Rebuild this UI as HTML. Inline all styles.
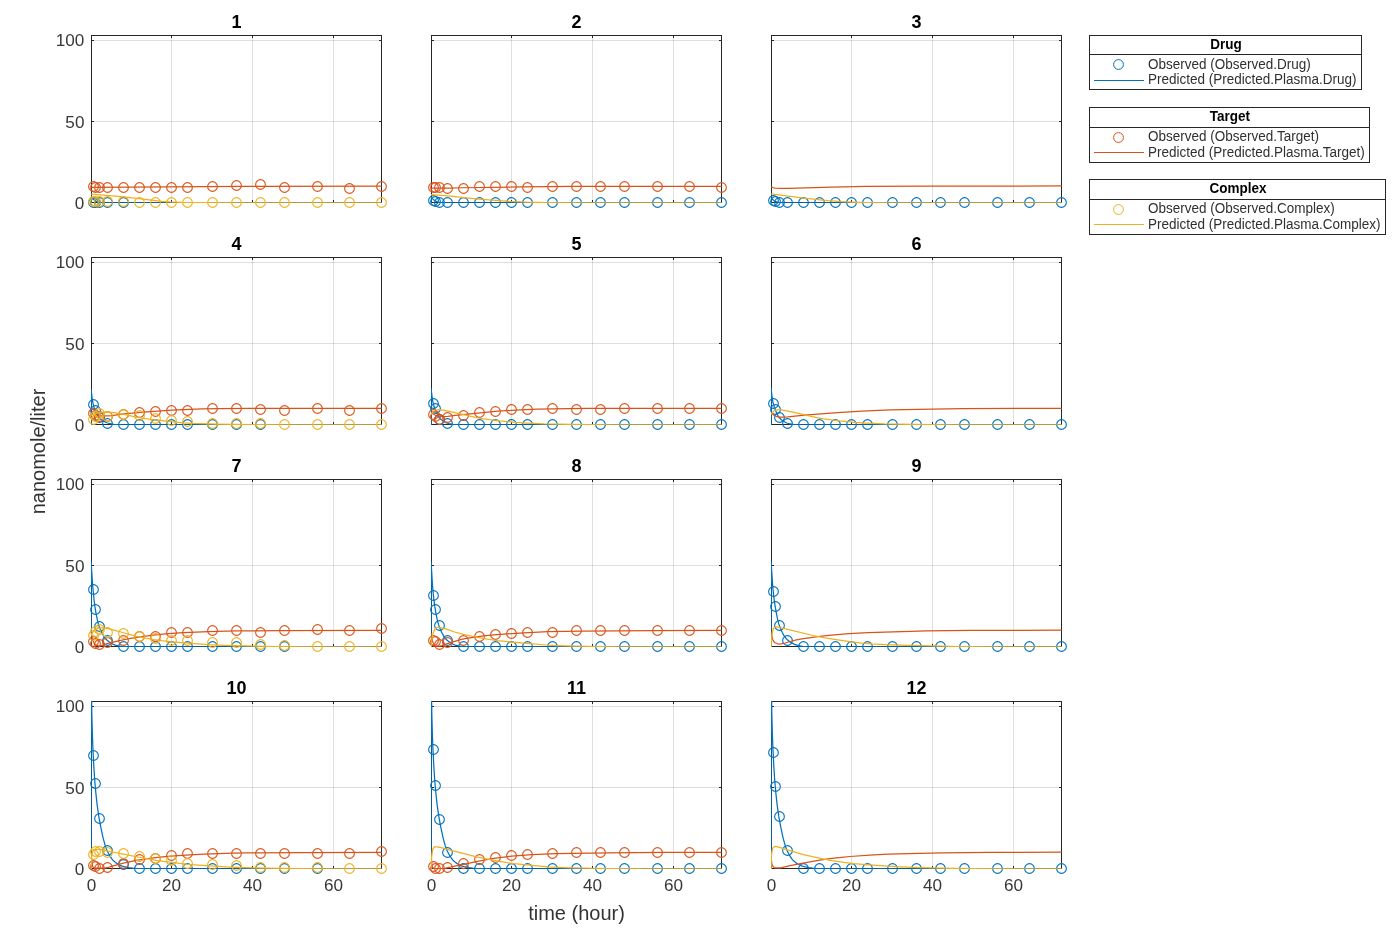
<!DOCTYPE html>
<html><head><meta charset="utf-8"><title>Fit results</title>
<style>
html,body{margin:0;padding:0;background:#fff;}
svg{display:block;will-change:transform;}
text{font-family:"Liberation Sans",Arial,Helvetica,sans-serif;}
.tk{font-size:16px;fill:#383838;}
.ti{font-size:18px;font-weight:bold;fill:#000;}
.lb{font-size:20px;fill:#333;}
.lg{font-size:14px;fill:#303030;}
.lt{font-size:14px;font-weight:bold;fill:#000;}
</style></head><body>
<svg width="1393" height="929" viewBox="0 0 1393 929">
<rect width="1393" height="929" fill="#fff"/>
<defs>
<clipPath id="c1"><rect x="91" y="35" width="291" height="168"/></clipPath>
<clipPath id="c2"><rect x="431" y="35" width="291" height="168"/></clipPath>
<clipPath id="c3"><rect x="771" y="35" width="291" height="168"/></clipPath>
<clipPath id="c4"><rect x="91" y="257" width="291" height="168"/></clipPath>
<clipPath id="c5"><rect x="431" y="257" width="291" height="168"/></clipPath>
<clipPath id="c6"><rect x="771" y="257" width="291" height="168"/></clipPath>
<clipPath id="c7"><rect x="91" y="479" width="291" height="168"/></clipPath>
<clipPath id="c8"><rect x="431" y="479" width="291" height="168"/></clipPath>
<clipPath id="c9"><rect x="771" y="479" width="291" height="168"/></clipPath>
<clipPath id="c10"><rect x="91" y="701" width="291" height="168"/></clipPath>
<clipPath id="c11"><rect x="431" y="701" width="291" height="168"/></clipPath>
<clipPath id="c12"><rect x="771" y="701" width="291" height="168"/></clipPath>
</defs>
<g id="ax1">
<path d="M171.5,36V202M252.5,36V202M333.5,36V202" stroke="#262626" stroke-opacity="0.15" stroke-width="1" fill="none" shape-rendering="crispEdges"/>
<path d="M92,121.5H381M92,40.5H381" stroke="#262626" stroke-opacity="0.15" stroke-width="1" fill="none" shape-rendering="crispEdges"/>
<path d="M91.5,35.5H381.5V202.5H91.5ZM91.5,203v-3M91.5,35v3M171.5,203v-3M171.5,35v3M252.5,203v-3M252.5,35v3M333.5,203v-3M333.5,35v3M91,202.5h3M382,202.5h-3M91,121.5h3M382,121.5h-3M91,40.5h3M382,40.5h-3" stroke="#262626" stroke-width="1" fill="none" shape-rendering="crispEdges"/>
<text class="tk" x="84.4" y="208.6" text-anchor="end" textLength="9.52" lengthAdjust="spacingAndGlyphs">0</text>
<text class="tk" x="84.4" y="127.9" text-anchor="end" textLength="19.04" lengthAdjust="spacingAndGlyphs">50</text>
<text class="tk" x="84.4" y="46.0" text-anchor="end" textLength="28.56" lengthAdjust="spacingAndGlyphs">100</text>
<text class="ti" x="236.5" y="27.8" text-anchor="middle">1</text>
<g fill="none" stroke="#0072BD" stroke-width="1.1"><circle cx="93.5" cy="202.5" r="4.85"/><circle cx="95.5" cy="202.5" r="4.85"/><circle cx="99.5" cy="202.5" r="4.85"/><circle cx="107.5" cy="202.5" r="4.85"/><circle cx="123.5" cy="202.5" r="4.85"/></g>
<path clip-path="url(#c1)" fill="none" stroke-width="1.25"  d="M91.1,202.9 L91.1,196.18 L92.61,198.23 L94.63,200.3 L95.44,200.86 L96.85,201.58 L98.06,202.01 L99.17,202.24 L102.8,202.6 L106.43,202.77 L122.97,202.9 L381.6,202.9" stroke="#0072BD" stroke-linejoin="round"/>
<g fill="none" stroke="#D95319" stroke-width="1.1"><circle cx="93.5" cy="186.5" r="4.85"/><circle cx="95.5" cy="187.5" r="4.85"/><circle cx="99.5" cy="187.5" r="4.85"/><circle cx="107.5" cy="187.5" r="4.85"/><circle cx="123.5" cy="187.5" r="4.85"/><circle cx="139.5" cy="187.5" r="4.85"/><circle cx="155.5" cy="187.5" r="4.85"/><circle cx="171.5" cy="187.5" r="4.85"/><circle cx="187.5" cy="187.5" r="4.85"/><circle cx="212.5" cy="186.5" r="4.85"/><circle cx="236.5" cy="185.5" r="4.85"/><circle cx="260.5" cy="184.5" r="4.85"/><circle cx="284.5" cy="187.5" r="4.85"/><circle cx="317.5" cy="186.5" r="4.85"/><circle cx="349.5" cy="188.5" r="4.85"/><circle cx="381.5" cy="186.5" r="4.85"/></g>
<path clip-path="url(#c1)" fill="none" stroke-width="1.25"  d="M91.1,187.43 L244.42,186.49 L381.6,186.13" stroke="#D95319" stroke-linejoin="round"/>
<g fill="none" stroke="#EDB120" stroke-width="1.1"><circle cx="93.5" cy="201.5" r="4.85"/><circle cx="95.5" cy="201.5" r="4.85"/><circle cx="99.5" cy="201.5" r="4.85"/><circle cx="107.5" cy="201.5" r="4.85"/><circle cx="123.5" cy="201.5" r="4.85"/><circle cx="139.5" cy="202.5" r="4.85"/><circle cx="155.5" cy="202.5" r="4.85"/><circle cx="171.5" cy="202.5" r="4.85"/><circle cx="187.5" cy="202.5" r="4.85"/><circle cx="212.5" cy="202.5" r="4.85"/><circle cx="236.5" cy="202.5" r="4.85"/><circle cx="260.5" cy="202.5" r="4.85"/><circle cx="284.5" cy="202.5" r="4.85"/><circle cx="317.5" cy="202.5" r="4.85"/><circle cx="349.5" cy="202.5" r="4.85"/><circle cx="381.5" cy="202.5" r="4.85"/></g>
<path clip-path="url(#c1)" fill="none" stroke-width="1.25"  d="M91.1,194.23 L123.78,196.86 L153.64,200.46 L161.71,201.28 L169.78,201.91 L181.88,202.43 L202.05,202.73 L238.37,202.88 L381.6,202.9" stroke="#EDB120" stroke-linejoin="round"/>
</g>
<g id="ax2">
<path d="M511.5,36V202M592.5,36V202M673.5,36V202" stroke="#262626" stroke-opacity="0.15" stroke-width="1" fill="none" shape-rendering="crispEdges"/>
<path d="M432,121.5H721M432,40.5H721" stroke="#262626" stroke-opacity="0.15" stroke-width="1" fill="none" shape-rendering="crispEdges"/>
<path d="M431.5,35.5H721.5V202.5H431.5ZM431.5,203v-3M431.5,35v3M511.5,203v-3M511.5,35v3M592.5,203v-3M592.5,35v3M673.5,203v-3M673.5,35v3M431,202.5h3M722,202.5h-3M431,121.5h3M722,121.5h-3M431,40.5h3M722,40.5h-3" stroke="#262626" stroke-width="1" fill="none" shape-rendering="crispEdges"/>
<text class="ti" x="576.5" y="27.8" text-anchor="middle">2</text>
<g fill="none" stroke="#0072BD" stroke-width="1.1"><circle cx="433.5" cy="200.5" r="4.85"/><circle cx="435.5" cy="201.5" r="4.85"/><circle cx="439.5" cy="202.5" r="4.85"/><circle cx="447.5" cy="202.5" r="4.85"/><circle cx="463.5" cy="202.5" r="4.85"/><circle cx="479.5" cy="202.5" r="4.85"/><circle cx="495.5" cy="202.5" r="4.85"/><circle cx="511.5" cy="202.5" r="4.85"/><circle cx="527.5" cy="202.5" r="4.85"/><circle cx="552.5" cy="202.5" r="4.85"/><circle cx="576.5" cy="202.5" r="4.85"/><circle cx="600.5" cy="202.5" r="4.85"/><circle cx="624.5" cy="202.5" r="4.85"/><circle cx="657.5" cy="202.5" r="4.85"/><circle cx="689.5" cy="202.5" r="4.85"/><circle cx="721.5" cy="202.5" r="4.85"/></g>
<path clip-path="url(#c2)" fill="none" stroke-width="1.25"  d="M431.1,202.9 L431.1,197.15 L432.41,198.62 L434.53,200.51 L435.34,201.01 L436.95,201.69 L438.36,202.1 L439.98,202.33 L446.84,202.78 L462.97,202.9 L721.6,202.9" stroke="#0072BD" stroke-linejoin="round"/>
<g fill="none" stroke="#D95319" stroke-width="1.1"><circle cx="433.5" cy="187.5" r="4.85"/><circle cx="435.5" cy="187.5" r="4.85"/><circle cx="439.5" cy="187.5" r="4.85"/><circle cx="447.5" cy="188.5" r="4.85"/><circle cx="463.5" cy="188.5" r="4.85"/><circle cx="479.5" cy="186.5" r="4.85"/><circle cx="495.5" cy="186.5" r="4.85"/><circle cx="511.5" cy="186.5" r="4.85"/><circle cx="527.5" cy="187.5" r="4.85"/><circle cx="552.5" cy="186.5" r="4.85"/><circle cx="576.5" cy="186.5" r="4.85"/><circle cx="600.5" cy="186.5" r="4.85"/><circle cx="624.5" cy="186.5" r="4.85"/><circle cx="657.5" cy="186.5" r="4.85"/><circle cx="689.5" cy="186.5" r="4.85"/><circle cx="721.5" cy="187.5" r="4.85"/></g>
<path clip-path="url(#c2)" fill="none" stroke-width="1.25"  d="M431.1,188.08 L449.66,188.06 L463.38,187.75 L521.88,186.86 L572.32,186.36 L721.6,186.3" stroke="#D95319" stroke-linejoin="round"/>
<path clip-path="url(#c2)" fill="none" stroke-width="1.25"  d="M431.1,194.56 L448.05,195.93 L475.89,198.77 L495.66,200.46 L509.78,201.46 L525.92,202.18 L548.11,202.64 L582.4,202.88 L721.6,202.9" stroke="#EDB120" stroke-linejoin="round"/>
</g>
<g id="ax3">
<path d="M851.5,36V202M932.5,36V202M1013.5,36V202" stroke="#262626" stroke-opacity="0.15" stroke-width="1" fill="none" shape-rendering="crispEdges"/>
<path d="M772,121.5H1061M772,40.5H1061" stroke="#262626" stroke-opacity="0.15" stroke-width="1" fill="none" shape-rendering="crispEdges"/>
<path d="M771.5,35.5H1061.5V202.5H771.5ZM771.5,203v-3M771.5,35v3M851.5,203v-3M851.5,35v3M932.5,203v-3M932.5,35v3M1013.5,203v-3M1013.5,35v3M771,202.5h3M1062,202.5h-3M771,121.5h3M1062,121.5h-3M771,40.5h3M1062,40.5h-3" stroke="#262626" stroke-width="1" fill="none" shape-rendering="crispEdges"/>
<text class="ti" x="916.5" y="27.8" text-anchor="middle">3</text>
<g fill="none" stroke="#0072BD" stroke-width="1.1"><circle cx="773.5" cy="200.5" r="4.85"/><circle cx="775.5" cy="201.5" r="4.85"/><circle cx="779.5" cy="202.5" r="4.85"/><circle cx="787.5" cy="202.5" r="4.85"/><circle cx="803.5" cy="202.5" r="4.85"/><circle cx="819.5" cy="202.5" r="4.85"/><circle cx="835.5" cy="202.5" r="4.85"/><circle cx="851.5" cy="202.5" r="4.85"/><circle cx="867.5" cy="202.5" r="4.85"/><circle cx="892.5" cy="202.5" r="4.85"/><circle cx="916.5" cy="202.5" r="4.85"/><circle cx="940.5" cy="202.5" r="4.85"/><circle cx="964.5" cy="202.5" r="4.85"/><circle cx="997.5" cy="202.5" r="4.85"/><circle cx="1029.5" cy="202.5" r="4.85"/><circle cx="1061.5" cy="202.5" r="4.85"/></g>
<path clip-path="url(#c3)" fill="none" stroke-width="1.25"  d="M771.1,202.9 L771.1,197.96 L774.43,200.94 L775.13,201.35 L776.55,201.89 L779.07,202.45 L786.03,202.89 L1061.6,202.9" stroke="#0072BD" stroke-linejoin="round"/>
<path clip-path="url(#c3)" fill="none" stroke-width="1.25"  d="M771.1,186.94 L773.52,187.78 L774.93,188.06 L781.19,188.32 L787.64,188.4 L831.62,187.03 L865.92,186.47 L928.45,186.14 L1061.6,185.97" stroke="#D95319" stroke-linejoin="round"/>
<path clip-path="url(#c3)" fill="none" stroke-width="1.25"  d="M771.1,193.91 L801.76,197.93 L827.59,200.66 L841.71,201.74 L857.85,202.44 L867.93,202.68 L890.12,202.9 L1061.6,202.9" stroke="#EDB120" stroke-linejoin="round"/>
</g>
<g id="ax4">
<path d="M171.5,258V424M252.5,258V424M333.5,258V424" stroke="#262626" stroke-opacity="0.15" stroke-width="1" fill="none" shape-rendering="crispEdges"/>
<path d="M92,343.5H381M92,262.5H381" stroke="#262626" stroke-opacity="0.15" stroke-width="1" fill="none" shape-rendering="crispEdges"/>
<path d="M91.5,257.5H381.5V424.5H91.5ZM91.5,425v-3M91.5,257v3M171.5,425v-3M171.5,257v3M252.5,425v-3M252.5,257v3M333.5,425v-3M333.5,257v3M91,424.5h3M382,424.5h-3M91,343.5h3M382,343.5h-3M91,262.5h3M382,262.5h-3" stroke="#262626" stroke-width="1" fill="none" shape-rendering="crispEdges"/>
<text class="tk" x="84.4" y="430.6" text-anchor="end" textLength="9.52" lengthAdjust="spacingAndGlyphs">0</text>
<text class="tk" x="84.4" y="349.9" text-anchor="end" textLength="19.04" lengthAdjust="spacingAndGlyphs">50</text>
<text class="tk" x="84.4" y="268.0" text-anchor="end" textLength="28.56" lengthAdjust="spacingAndGlyphs">100</text>
<text class="ti" x="236.5" y="249.8" text-anchor="middle">4</text>
<g fill="none" stroke="#0072BD" stroke-width="1.1"><circle cx="93.5" cy="404.5" r="4.85"/><circle cx="95.5" cy="410.5" r="4.85"/><circle cx="99.5" cy="417.5" r="4.85"/><circle cx="107.5" cy="423.5" r="4.85"/><circle cx="123.5" cy="424.5" r="4.85"/><circle cx="139.5" cy="424.5" r="4.85"/><circle cx="155.5" cy="424.5" r="4.85"/><circle cx="171.5" cy="424.5" r="4.85"/><circle cx="187.5" cy="424.5" r="4.85"/><circle cx="212.5" cy="424.5" r="4.85"/><circle cx="236.5" cy="424.5" r="4.85"/><circle cx="260.5" cy="424.5" r="4.85"/></g>
<path clip-path="url(#c4)" fill="none" stroke-width="1.25"  d="M91.1,424.9 L91.1,389.34 L92.21,398.76 L92.92,402.81 L93.72,406.37 L95.03,410.8 L96.35,413.71 L97.56,415.85 L98.87,417.56 L100.78,419.23 L102.8,420.65 L105.62,422.24 L106.84,422.77 L109.26,423.48 L113.69,424.31 L121.76,424.76 L137.1,424.9 L381.6,424.9" stroke="#0072BD" stroke-linejoin="round"/>
<g fill="none" stroke="#D95319" stroke-width="1.1"><circle cx="93.5" cy="413.5" r="4.85"/><circle cx="95.5" cy="415.5" r="4.85"/><circle cx="99.5" cy="416.5" r="4.85"/><circle cx="107.5" cy="416.5" r="4.85"/><circle cx="123.5" cy="414.5" r="4.85"/><circle cx="139.5" cy="412.5" r="4.85"/><circle cx="155.5" cy="411.5" r="4.85"/><circle cx="171.5" cy="410.5" r="4.85"/><circle cx="187.5" cy="410.5" r="4.85"/><circle cx="212.5" cy="408.5" r="4.85"/><circle cx="236.5" cy="408.5" r="4.85"/><circle cx="260.5" cy="409.5" r="4.85"/><circle cx="284.5" cy="410.5" r="4.85"/><circle cx="317.5" cy="408.5" r="4.85"/><circle cx="349.5" cy="410.5" r="4.85"/><circle cx="381.5" cy="408.5" r="4.85"/></g>
<path clip-path="url(#c4)" fill="none" stroke-width="1.25"  d="M91.1,412.67 L92.71,413.87 L94.13,414.7 L95.13,415.1 L97.56,415.74 L99.07,415.91 L107.64,415.91 L112.48,415.55 L121.36,414.22 L127.01,413.57 L143.55,412.03 L171.79,410.08 L202.05,408.99 L220.21,408.68 L248.45,408.47 L381.6,408.29" stroke="#D95319" stroke-linejoin="round"/>
<g fill="none" stroke="#EDB120" stroke-width="1.1"><circle cx="93.5" cy="419.5" r="4.85"/><circle cx="95.5" cy="416.5" r="4.85"/><circle cx="99.5" cy="413.5" r="4.85"/><circle cx="107.5" cy="416.5" r="4.85"/><circle cx="123.5" cy="414.5" r="4.85"/><circle cx="139.5" cy="415.5" r="4.85"/><circle cx="155.5" cy="418.5" r="4.85"/><circle cx="171.5" cy="420.5" r="4.85"/><circle cx="187.5" cy="421.5" r="4.85"/><circle cx="212.5" cy="423.5" r="4.85"/><circle cx="236.5" cy="423.5" r="4.85"/><circle cx="260.5" cy="423.5" r="4.85"/><circle cx="284.5" cy="424.5" r="4.85"/><circle cx="317.5" cy="424.5" r="4.85"/><circle cx="349.5" cy="424.5" r="4.85"/><circle cx="381.5" cy="424.5" r="4.85"/></g>
<path clip-path="url(#c4)" fill="none" stroke-width="1.25"  d="M91.1,419.15 L92.81,416.66 L94.23,415.04 L96.14,413.6 L97.86,412.66 L99.17,412.34 L108.05,412.19 L113.69,412.67 L123.78,414.36 L127.41,415.09 L137.5,417.48 L145.57,418.74 L163.72,420.93 L175.83,422.21 L183.9,422.88 L191.97,423.33 L216.18,424.11 L252.49,424.68 L288.8,424.9 L381.6,424.9" stroke="#EDB120" stroke-linejoin="round"/>
</g>
<g id="ax5">
<path d="M511.5,258V424M592.5,258V424M673.5,258V424" stroke="#262626" stroke-opacity="0.15" stroke-width="1" fill="none" shape-rendering="crispEdges"/>
<path d="M432,343.5H721M432,262.5H721" stroke="#262626" stroke-opacity="0.15" stroke-width="1" fill="none" shape-rendering="crispEdges"/>
<path d="M431.5,257.5H721.5V424.5H431.5ZM431.5,425v-3M431.5,257v3M511.5,425v-3M511.5,257v3M592.5,425v-3M592.5,257v3M673.5,425v-3M673.5,257v3M431,424.5h3M722,424.5h-3M431,343.5h3M722,343.5h-3M431,262.5h3M722,262.5h-3" stroke="#262626" stroke-width="1" fill="none" shape-rendering="crispEdges"/>
<text class="ti" x="576.5" y="249.8" text-anchor="middle">5</text>
<g fill="none" stroke="#0072BD" stroke-width="1.1"><circle cx="433.5" cy="403.5" r="4.85"/><circle cx="435.5" cy="408.5" r="4.85"/><circle cx="439.5" cy="419.5" r="4.85"/><circle cx="447.5" cy="423.5" r="4.85"/><circle cx="463.5" cy="424.5" r="4.85"/><circle cx="479.5" cy="424.5" r="4.85"/><circle cx="495.5" cy="424.5" r="4.85"/><circle cx="511.5" cy="424.5" r="4.85"/><circle cx="527.5" cy="424.5" r="4.85"/><circle cx="552.5" cy="424.5" r="4.85"/><circle cx="576.5" cy="424.5" r="4.85"/><circle cx="600.5" cy="424.5" r="4.85"/><circle cx="624.5" cy="424.5" r="4.85"/><circle cx="657.5" cy="424.5" r="4.85"/><circle cx="689.5" cy="424.5" r="4.85"/><circle cx="721.5" cy="424.5" r="4.85"/></g>
<path clip-path="url(#c5)" fill="none" stroke-width="1.25"  d="M431.1,424.9 L431.1,388.69 L432.21,397.95 L432.81,401.53 L433.42,404.17 L434.33,407.23 L435.54,410.45 L437.05,414.02 L438.26,416.32 L439.17,417.53 L441.19,419.43 L442.8,420.67 L445.62,422.45 L446.84,423 L448.85,423.57 L453.29,424.38 L458.54,424.76 L463.38,424.9 L721.6,424.9" stroke="#0072BD" stroke-linejoin="round"/>
<g fill="none" stroke="#D95319" stroke-width="1.1"><circle cx="433.5" cy="414.5" r="4.85"/><circle cx="435.5" cy="416.5" r="4.85"/><circle cx="439.5" cy="419.5" r="4.85"/><circle cx="447.5" cy="417.5" r="4.85"/><circle cx="463.5" cy="415.5" r="4.85"/><circle cx="479.5" cy="412.5" r="4.85"/><circle cx="495.5" cy="411.5" r="4.85"/><circle cx="511.5" cy="409.5" r="4.85"/><circle cx="527.5" cy="409.5" r="4.85"/><circle cx="552.5" cy="408.5" r="4.85"/><circle cx="576.5" cy="409.5" r="4.85"/><circle cx="600.5" cy="409.5" r="4.85"/><circle cx="624.5" cy="408.5" r="4.85"/><circle cx="657.5" cy="408.5" r="4.85"/><circle cx="689.5" cy="408.5" r="4.85"/><circle cx="721.5" cy="408.5" r="4.85"/></g>
<path clip-path="url(#c5)" fill="none" stroke-width="1.25"  d="M431.1,412.34 L432.71,413.67 L434.03,414.55 L435.03,415.06 L436.85,415.72 L439.17,416.23 L441.99,416.49 L444.41,416.55 L447.64,416.36 L455.31,415.42 L497.67,411.21 L519.86,409.79 L538.02,409.09 L552.14,408.78 L586.44,408.48 L721.6,408.29" stroke="#D95319" stroke-linejoin="round"/>
<path clip-path="url(#c5)" fill="none" stroke-width="1.25"  d="M431.1,414.45 L432.81,412.17 L434.13,410.86 L434.83,410.35 L437.56,409.84 L440.38,409.8 L442.8,410.14 L451.68,411.94 L476.69,417.65 L483.55,418.84 L489.6,419.71 L499.69,420.87 L515.83,422.36 L525.92,423.02 L544.07,423.88 L572.32,424.47 L614.68,424.84 L721.6,424.9" stroke="#EDB120" stroke-linejoin="round"/>
</g>
<g id="ax6">
<path d="M851.5,258V424M932.5,258V424M1013.5,258V424" stroke="#262626" stroke-opacity="0.15" stroke-width="1" fill="none" shape-rendering="crispEdges"/>
<path d="M772,343.5H1061M772,262.5H1061" stroke="#262626" stroke-opacity="0.15" stroke-width="1" fill="none" shape-rendering="crispEdges"/>
<path d="M771.5,257.5H1061.5V424.5H771.5ZM771.5,425v-3M771.5,257v3M851.5,425v-3M851.5,257v3M932.5,425v-3M932.5,257v3M1013.5,425v-3M1013.5,257v3M771,424.5h3M1062,424.5h-3M771,343.5h3M1062,343.5h-3M771,262.5h3M1062,262.5h-3" stroke="#262626" stroke-width="1" fill="none" shape-rendering="crispEdges"/>
<text class="ti" x="916.5" y="249.8" text-anchor="middle">6</text>
<g fill="none" stroke="#0072BD" stroke-width="1.1"><circle cx="773.5" cy="403.5" r="4.85"/><circle cx="775.5" cy="409.5" r="4.85"/><circle cx="779.5" cy="417.5" r="4.85"/><circle cx="787.5" cy="423.5" r="4.85"/><circle cx="803.5" cy="424.5" r="4.85"/><circle cx="819.5" cy="424.5" r="4.85"/><circle cx="835.5" cy="424.5" r="4.85"/><circle cx="851.5" cy="424.5" r="4.85"/><circle cx="867.5" cy="424.5" r="4.85"/><circle cx="892.5" cy="424.5" r="4.85"/><circle cx="916.5" cy="424.5" r="4.85"/><circle cx="940.5" cy="424.5" r="4.85"/><circle cx="964.5" cy="424.5" r="4.85"/><circle cx="997.5" cy="424.5" r="4.85"/><circle cx="1029.5" cy="424.5" r="4.85"/><circle cx="1061.5" cy="424.5" r="4.85"/></g>
<path clip-path="url(#c6)" fill="none" stroke-width="1.25"  d="M771.1,424.9 L771.1,388.69 L772.21,397.95 L772.81,401.53 L773.42,404.17 L774.33,407.23 L775.54,410.45 L777.05,414.02 L778.26,416.32 L779.17,417.53 L781.19,419.43 L782.8,420.67 L785.62,422.45 L786.84,423 L788.85,423.57 L793.29,424.38 L798.54,424.76 L803.38,424.9 L1061.6,424.9" stroke="#0072BD" stroke-linejoin="round"/>
<path clip-path="url(#c6)" fill="none" stroke-width="1.25"  d="M771.1,412.34 L772.61,414.02 L773.82,415.11 L774.83,415.77 L776.35,416.39 L778.87,417.02 L784.41,417.2 L788.05,416.97 L794.9,416.11 L804.59,415.15 L837.67,412.53 L861.88,411.17 L890.12,409.97 L918.37,409.33 L962.75,408.7 L1015.2,408.4 L1061.6,408.29" stroke="#D95319" stroke-linejoin="round"/>
<path clip-path="url(#c6)" fill="none" stroke-width="1.25"  d="M771.1,414.45 L772.81,412.17 L774.13,410.86 L774.83,410.35 L777.56,409.84 L780.38,409.8 L782.8,410.14 L791.68,411.94 L816.69,417.65 L823.55,418.84 L829.6,419.71 L839.69,420.87 L855.83,422.36 L865.92,423.02 L884.07,423.88 L912.32,424.47 L954.68,424.84 L1061.6,424.9" stroke="#EDB120" stroke-linejoin="round"/>
</g>
<g id="ax7">
<path d="M171.5,480V646M252.5,480V646M333.5,480V646" stroke="#262626" stroke-opacity="0.15" stroke-width="1" fill="none" shape-rendering="crispEdges"/>
<path d="M92,565.5H381M92,484.5H381" stroke="#262626" stroke-opacity="0.15" stroke-width="1" fill="none" shape-rendering="crispEdges"/>
<path d="M91.5,479.5H381.5V646.5H91.5ZM91.5,647v-3M91.5,479v3M171.5,647v-3M171.5,479v3M252.5,647v-3M252.5,479v3M333.5,647v-3M333.5,479v3M91,646.5h3M382,646.5h-3M91,565.5h3M382,565.5h-3M91,484.5h3M382,484.5h-3" stroke="#262626" stroke-width="1" fill="none" shape-rendering="crispEdges"/>
<text class="tk" x="84.4" y="652.6" text-anchor="end" textLength="9.52" lengthAdjust="spacingAndGlyphs">0</text>
<text class="tk" x="84.4" y="571.9" text-anchor="end" textLength="19.04" lengthAdjust="spacingAndGlyphs">50</text>
<text class="tk" x="84.4" y="490.0" text-anchor="end" textLength="28.56" lengthAdjust="spacingAndGlyphs">100</text>
<text class="ti" x="236.5" y="471.8" text-anchor="middle">7</text>
<g fill="none" stroke="#0072BD" stroke-width="1.1"><circle cx="93.5" cy="589.5" r="4.85"/><circle cx="95.5" cy="609.5" r="4.85"/><circle cx="99.5" cy="626.5" r="4.85"/><circle cx="107.5" cy="640.5" r="4.85"/><circle cx="123.5" cy="646.5" r="4.85"/><circle cx="139.5" cy="646.5" r="4.85"/><circle cx="155.5" cy="646.5" r="4.85"/><circle cx="171.5" cy="646.5" r="4.85"/><circle cx="187.5" cy="646.5" r="4.85"/><circle cx="212.5" cy="646.5" r="4.85"/><circle cx="236.5" cy="646.5" r="4.85"/><circle cx="260.5" cy="646.5" r="4.85"/><circle cx="284.5" cy="646.5" r="4.85"/></g>
<path clip-path="url(#c7)" fill="none" stroke-width="1.25"  d="M91.1,646.9 L91.1,561.77 L92.71,586.24 L94.13,600.51 L94.93,606.64 L96.14,613.85 L97.35,619.98 L98.46,624.42 L99.57,627.61 L101.59,632.24 L103.2,635.27 L105.22,638.25 L106.84,639.99 L109.66,642.16 L113.29,644.31 L115.31,645.13 L118.54,645.85 L121.76,646.3 L127.01,646.74 L131.04,646.9 L381.6,646.9" stroke="#0072BD" stroke-linejoin="round"/>
<g fill="none" stroke="#D95319" stroke-width="1.1"><circle cx="93.5" cy="641.5" r="4.85"/><circle cx="95.5" cy="643.5" r="4.85"/><circle cx="99.5" cy="644.5" r="4.85"/><circle cx="107.5" cy="642.5" r="4.85"/><circle cx="123.5" cy="640.5" r="4.85"/><circle cx="139.5" cy="636.5" r="4.85"/><circle cx="155.5" cy="636.5" r="4.85"/><circle cx="171.5" cy="632.5" r="4.85"/><circle cx="187.5" cy="632.5" r="4.85"/><circle cx="212.5" cy="630.5" r="4.85"/><circle cx="236.5" cy="630.5" r="4.85"/><circle cx="260.5" cy="632.5" r="4.85"/><circle cx="284.5" cy="630.5" r="4.85"/><circle cx="317.5" cy="629.5" r="4.85"/><circle cx="349.5" cy="630.5" r="4.85"/><circle cx="381.5" cy="628.5" r="4.85"/></g>
<path clip-path="url(#c7)" fill="none" stroke-width="1.25"  d="M91.1,633.05 L92.01,637.41 L92.71,640.05 L93.62,642.27 L94.63,644.14 L95.13,644.69 L96.45,645.28 L97.86,645.67 L99.17,645.79 L100.78,645.65 L103.2,645.13 L107.24,643.58 L118.13,640.96 L129.03,638.74 L138.71,637.06 L149.6,635.53 L159.69,634.42 L171.79,633.37 L183.9,632.61 L208.11,631.55 L236.35,630.94 L280.73,630.63 L381.6,630.46" stroke="#D95319" stroke-linejoin="round"/>
<g fill="none" stroke="#EDB120" stroke-width="1.1"><circle cx="93.5" cy="635.5" r="4.85"/><circle cx="95.5" cy="631.5" r="4.85"/><circle cx="99.5" cy="629.5" r="4.85"/><circle cx="107.5" cy="632.5" r="4.85"/><circle cx="123.5" cy="633.5" r="4.85"/><circle cx="139.5" cy="636.5" r="4.85"/><circle cx="155.5" cy="638.5" r="4.85"/><circle cx="171.5" cy="640.5" r="4.85"/><circle cx="187.5" cy="640.5" r="4.85"/><circle cx="212.5" cy="642.5" r="4.85"/><circle cx="236.5" cy="642.5" r="4.85"/><circle cx="260.5" cy="644.5" r="4.85"/><circle cx="284.5" cy="645.5" r="4.85"/><circle cx="317.5" cy="646.5" r="4.85"/><circle cx="349.5" cy="646.5" r="4.85"/><circle cx="381.5" cy="646.5" r="4.85"/></g>
<path clip-path="url(#c7)" fill="none" stroke-width="1.25"  d="M91.1,635.32 L93.32,631.65 L94.13,630.64 L94.93,629.93 L96.95,628.91 L98.77,628.23 L100.38,627.91 L101.99,627.88 L105.62,628.28 L110.47,629.11 L114.1,630.04 L122.57,632.51 L136.69,636.29 L145.57,638.16 L153.64,639.55 L161.71,640.67 L171.79,641.8 L208.11,644.67 L218.19,645.19 L232.32,645.68 L274.68,646.58 L321.08,646.88 L381.6,646.9" stroke="#EDB120" stroke-linejoin="round"/>
</g>
<g id="ax8">
<path d="M511.5,480V646M592.5,480V646M673.5,480V646" stroke="#262626" stroke-opacity="0.15" stroke-width="1" fill="none" shape-rendering="crispEdges"/>
<path d="M432,565.5H721M432,484.5H721" stroke="#262626" stroke-opacity="0.15" stroke-width="1" fill="none" shape-rendering="crispEdges"/>
<path d="M431.5,479.5H721.5V646.5H431.5ZM431.5,647v-3M431.5,479v3M511.5,647v-3M511.5,479v3M592.5,647v-3M592.5,479v3M673.5,647v-3M673.5,479v3M431,646.5h3M722,646.5h-3M431,565.5h3M722,565.5h-3M431,484.5h3M722,484.5h-3" stroke="#262626" stroke-width="1" fill="none" shape-rendering="crispEdges"/>
<text class="ti" x="576.5" y="471.8" text-anchor="middle">8</text>
<g fill="none" stroke="#0072BD" stroke-width="1.1"><circle cx="433.5" cy="595.5" r="4.85"/><circle cx="435.5" cy="609.5" r="4.85"/><circle cx="439.5" cy="625.5" r="4.85"/><circle cx="447.5" cy="640.5" r="4.85"/><circle cx="463.5" cy="646.5" r="4.85"/><circle cx="479.5" cy="646.5" r="4.85"/><circle cx="495.5" cy="646.5" r="4.85"/><circle cx="511.5" cy="646.5" r="4.85"/><circle cx="527.5" cy="646.5" r="4.85"/><circle cx="552.5" cy="646.5" r="4.85"/><circle cx="576.5" cy="646.5" r="4.85"/><circle cx="600.5" cy="646.5" r="4.85"/><circle cx="624.5" cy="646.5" r="4.85"/><circle cx="657.5" cy="646.5" r="4.85"/><circle cx="689.5" cy="646.5" r="4.85"/><circle cx="721.5" cy="646.5" r="4.85"/></g>
<path clip-path="url(#c8)" fill="none" stroke-width="1.25"  d="M431.1,646.9 L431.1,561.77 L432.41,583.95 L433.02,591.49 L433.82,599.19 L434.73,606.2 L435.84,612.76 L437.15,619.32 L438.36,624.14 L439.57,627.6 L441.59,632.2 L443.61,635.91 L445.22,638.23 L446.84,639.99 L449.66,642.16 L453.29,644.31 L455.31,645.13 L458.54,645.85 L461.76,646.3 L467.01,646.74 L471.04,646.9 L721.6,646.9" stroke="#0072BD" stroke-linejoin="round"/>
<g fill="none" stroke="#D95319" stroke-width="1.1"><circle cx="433.5" cy="640.5" r="4.85"/><circle cx="435.5" cy="641.5" r="4.85"/><circle cx="439.5" cy="644.5" r="4.85"/><circle cx="447.5" cy="642.5" r="4.85"/><circle cx="463.5" cy="640.5" r="4.85"/><circle cx="479.5" cy="636.5" r="4.85"/><circle cx="495.5" cy="634.5" r="4.85"/><circle cx="511.5" cy="633.5" r="4.85"/><circle cx="527.5" cy="632.5" r="4.85"/><circle cx="552.5" cy="632.5" r="4.85"/><circle cx="576.5" cy="630.5" r="4.85"/><circle cx="600.5" cy="630.5" r="4.85"/><circle cx="624.5" cy="630.5" r="4.85"/><circle cx="657.5" cy="630.5" r="4.85"/><circle cx="689.5" cy="630.5" r="4.85"/><circle cx="721.5" cy="630.5" r="4.85"/></g>
<path clip-path="url(#c8)" fill="none" stroke-width="1.25"  d="M431.1,633.05 L431.91,638.02 L432.61,641.33 L433.02,642.55 L434.23,644.94 L434.73,645.59 L435.13,645.79 L439.17,646.01 L440.38,645.92 L441.99,645.54 L447.24,643.58 L460.55,639.7 L464.99,638.72 L471.45,637.6 L483.55,635.94 L493.64,634.85 L503.73,634.06 L523.9,632.78 L548.11,631.7 L582.4,631.04 L653.01,630.61 L721.6,630.46" stroke="#D95319" stroke-linejoin="round"/>
<path clip-path="url(#c8)" fill="none" stroke-width="1.25"  d="M431.1,646.9 L431.4,643.08 L432.01,637.97 L432.31,636.29 L433.12,633.31 L433.92,631.1 L434.83,629.4 L436.24,627.8 L436.75,627.47 L437.15,627.38 L439.98,627.62 L444.82,628.56 L447.24,629.32 L454.5,632 L465.4,634.8 L476.29,637.13 L487.59,639.15 L497.67,640.6 L507.76,641.73 L546.09,645 L556.18,645.52 L574.33,646.09 L616.7,646.8 L630.82,646.9 L721.6,646.9" stroke="#EDB120" stroke-linejoin="round"/>
</g>
<g id="ax9">
<path d="M851.5,480V646M932.5,480V646M1013.5,480V646" stroke="#262626" stroke-opacity="0.15" stroke-width="1" fill="none" shape-rendering="crispEdges"/>
<path d="M772,565.5H1061M772,484.5H1061" stroke="#262626" stroke-opacity="0.15" stroke-width="1" fill="none" shape-rendering="crispEdges"/>
<path d="M771.5,479.5H1061.5V646.5H771.5ZM771.5,647v-3M771.5,479v3M851.5,647v-3M851.5,479v3M932.5,647v-3M932.5,479v3M1013.5,647v-3M1013.5,479v3M771,646.5h3M1062,646.5h-3M771,565.5h3M1062,565.5h-3M771,484.5h3M1062,484.5h-3" stroke="#262626" stroke-width="1" fill="none" shape-rendering="crispEdges"/>
<text class="ti" x="916.5" y="471.8" text-anchor="middle">9</text>
<g fill="none" stroke="#0072BD" stroke-width="1.1"><circle cx="773.5" cy="591.5" r="4.85"/><circle cx="775.5" cy="606.5" r="4.85"/><circle cx="779.5" cy="625.5" r="4.85"/><circle cx="787.5" cy="640.5" r="4.85"/><circle cx="803.5" cy="646.5" r="4.85"/><circle cx="819.5" cy="646.5" r="4.85"/><circle cx="835.5" cy="646.5" r="4.85"/><circle cx="851.5" cy="646.5" r="4.85"/><circle cx="867.5" cy="646.5" r="4.85"/><circle cx="892.5" cy="646.5" r="4.85"/><circle cx="916.5" cy="646.5" r="4.85"/><circle cx="940.5" cy="646.5" r="4.85"/><circle cx="964.5" cy="646.5" r="4.85"/><circle cx="997.5" cy="646.5" r="4.85"/><circle cx="1029.5" cy="646.5" r="4.85"/><circle cx="1061.5" cy="646.5" r="4.85"/></g>
<path clip-path="url(#c9)" fill="none" stroke-width="1.25"  d="M771.1,646.9 L771.1,561.77 L772.71,586.33 L773.82,597.19 L774.83,604.31 L776.35,613.08 L777.66,619.6 L778.77,623.9 L780.38,628.26 L782.4,632.75 L784.01,635.66 L786.03,638.46 L788.05,640.38 L790.87,642.43 L794.5,644.37 L796.92,645.2 L799.75,645.92 L802.57,646.38 L807.41,646.77 L811.04,646.9 L1061.6,646.9" stroke="#0072BD" stroke-linejoin="round"/>
<path clip-path="url(#c9)" fill="none" stroke-width="1.25"  d="M771.1,631.59 L772.21,638.06 L772.71,639.51 L773.62,641.22 L774.33,642.15 L775.13,642.77 L777.66,643.77 L779.17,644.02 L780.78,643.87 L785.22,643.01 L792.89,640.77 L795.31,640.18 L801.76,638.98 L809.03,637.85 L821.53,636.2 L831.62,635.06 L845.74,633.78 L853.81,633.27 L867.93,632.68 L910.3,631.29 L926.44,630.91 L970.82,630.47 L1061.6,630.13" stroke="#D95319" stroke-linejoin="round"/>
<path clip-path="url(#c9)" fill="none" stroke-width="1.25"  d="M771.1,646.9 L771.81,637.12 L772.51,632.12 L773.02,629.51 L773.42,628.33 L773.82,627.9 L774.93,627.13 L775.94,626.89 L778.06,627.14 L785.62,628.84 L813.06,635.51 L823.55,637.57 L837.67,639.84 L849.78,641.54 L861.88,643.05 L871.97,643.89 L884.07,644.58 L900.21,645.18 L958.71,646.53 L997.04,646.78 L1061.6,646.9" stroke="#EDB120" stroke-linejoin="round"/>
</g>
<g id="ax10">
<path d="M171.5,702V868M252.5,702V868M333.5,702V868" stroke="#262626" stroke-opacity="0.15" stroke-width="1" fill="none" shape-rendering="crispEdges"/>
<path d="M92,787.5H381M92,706.5H381" stroke="#262626" stroke-opacity="0.15" stroke-width="1" fill="none" shape-rendering="crispEdges"/>
<path d="M91.5,701.5H381.5V868.5H91.5ZM91.5,869v-3M91.5,701v3M171.5,869v-3M171.5,701v3M252.5,869v-3M252.5,701v3M333.5,869v-3M333.5,701v3M91,868.5h3M382,868.5h-3M91,787.5h3M382,787.5h-3M91,706.5h3M382,706.5h-3" stroke="#262626" stroke-width="1" fill="none" shape-rendering="crispEdges"/>
<text class="tk" x="84.4" y="874.6" text-anchor="end" textLength="9.52" lengthAdjust="spacingAndGlyphs">0</text>
<text class="tk" x="84.4" y="793.9" text-anchor="end" textLength="19.04" lengthAdjust="spacingAndGlyphs">50</text>
<text class="tk" x="84.4" y="712.0" text-anchor="end" textLength="28.56" lengthAdjust="spacingAndGlyphs">100</text>
<text class="tk" x="91.5" y="891.3" text-anchor="middle" textLength="9.52" lengthAdjust="spacingAndGlyphs">0</text>
<text class="tk" x="171.5" y="891.3" text-anchor="middle" textLength="19.04" lengthAdjust="spacingAndGlyphs">20</text>
<text class="tk" x="252.5" y="891.3" text-anchor="middle" textLength="19.04" lengthAdjust="spacingAndGlyphs">40</text>
<text class="tk" x="333.5" y="891.3" text-anchor="middle" textLength="19.04" lengthAdjust="spacingAndGlyphs">60</text>
<text class="ti" x="236.5" y="693.8" text-anchor="middle">10</text>
<g fill="none" stroke="#0072BD" stroke-width="1.1"><circle cx="93.5" cy="755.5" r="4.85"/><circle cx="95.5" cy="783.5" r="4.85"/><circle cx="99.5" cy="818.5" r="4.85"/><circle cx="107.5" cy="850.5" r="4.85"/><circle cx="123.5" cy="864.5" r="4.85"/><circle cx="139.5" cy="868.5" r="4.85"/><circle cx="155.5" cy="868.5" r="4.85"/><circle cx="171.5" cy="868.5" r="4.85"/><circle cx="187.5" cy="868.5" r="4.85"/><circle cx="212.5" cy="868.5" r="4.85"/><circle cx="236.5" cy="868.5" r="4.85"/><circle cx="260.5" cy="868.5" r="4.85"/><circle cx="284.5" cy="868.5" r="4.85"/><circle cx="317.5" cy="868.5" r="4.85"/></g>
<path clip-path="url(#c10)" fill="none" stroke-width="1.25"  d="M91.1,868.9 L91.1,665.51 L91.81,713.52 L92.31,732.14 L92.92,748.56 L93.82,766.52 L94.73,780.45 L95.94,793.95 L97.25,805.67 L98.77,816.24 L100.78,827.23 L103.2,838.36 L105.22,845.7 L106.43,849.14 L107.24,851 L110.06,856.22 L111.68,858.6 L112.89,860.1 L114.1,861.34 L115.71,862.63 L117.73,863.94 L119.75,865.02 L122.17,866.08 L124.18,866.66 L128.62,867.57 L132.66,868.17 L137.1,868.58 L141.53,868.73 L155.66,868.9 L381.6,868.9" stroke="#0072BD" stroke-linejoin="round"/>
<g fill="none" stroke="#D95319" stroke-width="1.1"><circle cx="93.5" cy="865.5" r="4.85"/><circle cx="95.5" cy="866.5" r="4.85"/><circle cx="99.5" cy="868.5" r="4.85"/><circle cx="107.5" cy="867.5" r="4.85"/><circle cx="123.5" cy="863.5" r="4.85"/><circle cx="139.5" cy="859.5" r="4.85"/><circle cx="155.5" cy="858.5" r="4.85"/><circle cx="171.5" cy="855.5" r="4.85"/><circle cx="187.5" cy="853.5" r="4.85"/><circle cx="212.5" cy="853.5" r="4.85"/><circle cx="236.5" cy="853.5" r="4.85"/><circle cx="260.5" cy="853.5" r="4.85"/><circle cx="284.5" cy="853.5" r="4.85"/><circle cx="317.5" cy="853.5" r="4.85"/><circle cx="349.5" cy="853.5" r="4.85"/><circle cx="381.5" cy="851.5" r="4.85"/></g>
<path clip-path="url(#c10)" fill="none" stroke-width="1.25"  d="M91.1,851.81 L91.71,861.5 L92.21,864.53 L92.71,866.3 L93.12,867.13 L94.13,867.94 L95.13,868.24 L103.2,868.24 L104.82,868.08 L109.26,867.09 L114.1,865.55 L123.38,863.15 L136.29,860.47 L147.59,858.68 L157.67,857.41 L167.76,856.37 L177.85,855.55 L189.95,854.77 L204.07,854.07 L218.19,853.55 L232.32,853.18 L246.44,852.96 L302.92,852.53 L381.6,852.29" stroke="#D95319" stroke-linejoin="round"/>
<g fill="none" stroke="#EDB120" stroke-width="1.1"><circle cx="93.5" cy="854.5" r="4.85"/><circle cx="95.5" cy="851.5" r="4.85"/><circle cx="99.5" cy="851.5" r="4.85"/><circle cx="107.5" cy="852.5" r="4.85"/><circle cx="123.5" cy="853.5" r="4.85"/><circle cx="139.5" cy="856.5" r="4.85"/><circle cx="155.5" cy="858.5" r="4.85"/><circle cx="171.5" cy="860.5" r="4.85"/><circle cx="187.5" cy="863.5" r="4.85"/><circle cx="212.5" cy="864.5" r="4.85"/><circle cx="236.5" cy="865.5" r="4.85"/><circle cx="260.5" cy="867.5" r="4.85"/><circle cx="284.5" cy="867.5" r="4.85"/><circle cx="317.5" cy="867.5" r="4.85"/><circle cx="349.5" cy="868.5" r="4.85"/><circle cx="381.5" cy="868.5" r="4.85"/></g>
<path clip-path="url(#c10)" fill="none" stroke-width="1.25"  d="M91.1,868.9 L91.5,858.29 L92.21,853.6 L92.61,852.07 L93.12,851 L94.23,849.75 L94.73,849.46 L95.13,849.38 L99.57,849.39 L101.59,849.63 L107.24,851 L123.38,854.08 L137.9,857.01 L149.6,859.21 L157.67,860.55 L167.76,861.99 L179.86,863.47 L187.93,864.28 L198.02,865.06 L218.19,866.42 L230.3,867.11 L244.42,867.61 L264.59,868.12 L319.06,868.85 L381.6,868.9" stroke="#EDB120" stroke-linejoin="round"/>
</g>
<g id="ax11">
<path d="M511.5,702V868M592.5,702V868M673.5,702V868" stroke="#262626" stroke-opacity="0.15" stroke-width="1" fill="none" shape-rendering="crispEdges"/>
<path d="M432,787.5H721M432,706.5H721" stroke="#262626" stroke-opacity="0.15" stroke-width="1" fill="none" shape-rendering="crispEdges"/>
<path d="M431.5,701.5H721.5V868.5H431.5ZM431.5,869v-3M431.5,701v3M511.5,869v-3M511.5,701v3M592.5,869v-3M592.5,701v3M673.5,869v-3M673.5,701v3M431,868.5h3M722,868.5h-3M431,787.5h3M722,787.5h-3M431,706.5h3M722,706.5h-3" stroke="#262626" stroke-width="1" fill="none" shape-rendering="crispEdges"/>
<text class="tk" x="431.5" y="891.3" text-anchor="middle" textLength="9.52" lengthAdjust="spacingAndGlyphs">0</text>
<text class="tk" x="511.5" y="891.3" text-anchor="middle" textLength="19.04" lengthAdjust="spacingAndGlyphs">20</text>
<text class="tk" x="592.5" y="891.3" text-anchor="middle" textLength="19.04" lengthAdjust="spacingAndGlyphs">40</text>
<text class="tk" x="673.5" y="891.3" text-anchor="middle" textLength="19.04" lengthAdjust="spacingAndGlyphs">60</text>
<text class="ti" x="576.5" y="693.8" text-anchor="middle">11</text>
<g fill="none" stroke="#0072BD" stroke-width="1.1"><circle cx="433.5" cy="749.5" r="4.85"/><circle cx="435.5" cy="785.5" r="4.85"/><circle cx="439.5" cy="819.5" r="4.85"/><circle cx="447.5" cy="852.5" r="4.85"/><circle cx="463.5" cy="868.5" r="4.85"/><circle cx="479.5" cy="868.5" r="4.85"/><circle cx="495.5" cy="868.5" r="4.85"/><circle cx="511.5" cy="868.5" r="4.85"/><circle cx="527.5" cy="868.5" r="4.85"/><circle cx="552.5" cy="868.5" r="4.85"/><circle cx="576.5" cy="868.5" r="4.85"/><circle cx="600.5" cy="868.5" r="4.85"/><circle cx="624.5" cy="868.5" r="4.85"/><circle cx="657.5" cy="868.5" r="4.85"/><circle cx="689.5" cy="868.5" r="4.85"/><circle cx="721.5" cy="868.5" r="4.85"/></g>
<path clip-path="url(#c11)" fill="none" stroke-width="1.25"  d="M431.1,868.9 L431.1,665.51 L431.81,713.52 L432.31,732.14 L432.92,748.56 L433.82,766.52 L434.73,780.45 L435.94,793.95 L437.25,805.67 L438.77,816.24 L440.78,827.23 L443.2,838.36 L445.22,845.7 L446.43,849.14 L447.24,851 L450.06,856.22 L451.68,858.6 L452.89,860.1 L454.1,861.34 L455.71,862.63 L457.73,863.94 L459.75,865.02 L462.17,866.08 L464.18,866.66 L468.62,867.57 L472.66,868.17 L477.1,868.58 L481.53,868.73 L495.66,868.9 L721.6,868.9" stroke="#0072BD" stroke-linejoin="round"/>
<g fill="none" stroke="#D95319" stroke-width="1.1"><circle cx="433.5" cy="866.5" r="4.85"/><circle cx="435.5" cy="868.5" r="4.85"/><circle cx="439.5" cy="868.5" r="4.85"/><circle cx="447.5" cy="867.5" r="4.85"/><circle cx="463.5" cy="863.5" r="4.85"/><circle cx="479.5" cy="859.5" r="4.85"/><circle cx="495.5" cy="857.5" r="4.85"/><circle cx="511.5" cy="855.5" r="4.85"/><circle cx="527.5" cy="854.5" r="4.85"/><circle cx="552.5" cy="853.5" r="4.85"/><circle cx="576.5" cy="852.5" r="4.85"/><circle cx="600.5" cy="852.5" r="4.85"/><circle cx="624.5" cy="852.5" r="4.85"/><circle cx="657.5" cy="852.5" r="4.85"/><circle cx="689.5" cy="852.5" r="4.85"/><circle cx="721.5" cy="852.5" r="4.85"/></g>
<path clip-path="url(#c11)" fill="none" stroke-width="1.25"  d="M431.1,851.81 L431.6,861.73 L431.91,864.77 L432.51,866.97 L432.92,867.82 L433.92,868.43 L435.13,868.68 L441.59,868.53 L444.82,868.27 L451.27,866.98 L457.33,865.57 L465.8,863.97 L478.71,861.2 L489.6,859.12 L495.66,858.13 L503.73,857.06 L511.79,856.18 L521.88,855.3 L531.97,854.65 L544.07,854.04 L556.18,853.65 L608.63,852.77 L663.1,852.43 L721.6,852.29" stroke="#D95319" stroke-linejoin="round"/>
<path clip-path="url(#c11)" fill="none" stroke-width="1.25"  d="M431.1,868.9 L431.5,858.29 L432.41,850.97 L432.81,849.28 L433.22,848.41 L434.23,847.19 L434.73,846.87 L435.13,846.79 L437.35,846.98 L441.19,847.68 L447.24,849.38 L478.71,857.3 L487.59,859.19 L497.67,861.08 L505.74,862.45 L513.81,863.55 L548.11,866.86 L558.19,867.43 L570.3,867.87 L606.61,868.51 L659.06,868.87 L721.6,868.9" stroke="#EDB120" stroke-linejoin="round"/>
</g>
<g id="ax12">
<path d="M851.5,702V868M932.5,702V868M1013.5,702V868" stroke="#262626" stroke-opacity="0.15" stroke-width="1" fill="none" shape-rendering="crispEdges"/>
<path d="M772,787.5H1061M772,706.5H1061" stroke="#262626" stroke-opacity="0.15" stroke-width="1" fill="none" shape-rendering="crispEdges"/>
<path d="M771.5,701.5H1061.5V868.5H771.5ZM771.5,869v-3M771.5,701v3M851.5,869v-3M851.5,701v3M932.5,869v-3M932.5,701v3M1013.5,869v-3M1013.5,701v3M771,868.5h3M1062,868.5h-3M771,787.5h3M1062,787.5h-3M771,706.5h3M1062,706.5h-3" stroke="#262626" stroke-width="1" fill="none" shape-rendering="crispEdges"/>
<text class="tk" x="771.5" y="891.3" text-anchor="middle" textLength="9.52" lengthAdjust="spacingAndGlyphs">0</text>
<text class="tk" x="851.5" y="891.3" text-anchor="middle" textLength="19.04" lengthAdjust="spacingAndGlyphs">20</text>
<text class="tk" x="932.5" y="891.3" text-anchor="middle" textLength="19.04" lengthAdjust="spacingAndGlyphs">40</text>
<text class="tk" x="1013.5" y="891.3" text-anchor="middle" textLength="19.04" lengthAdjust="spacingAndGlyphs">60</text>
<text class="ti" x="916.5" y="693.8" text-anchor="middle">12</text>
<g fill="none" stroke="#0072BD" stroke-width="1.1"><circle cx="773.5" cy="752.5" r="4.85"/><circle cx="775.5" cy="786.5" r="4.85"/><circle cx="779.5" cy="816.5" r="4.85"/><circle cx="787.5" cy="850.5" r="4.85"/><circle cx="803.5" cy="868.5" r="4.85"/><circle cx="819.5" cy="868.5" r="4.85"/><circle cx="835.5" cy="868.5" r="4.85"/><circle cx="851.5" cy="868.5" r="4.85"/><circle cx="867.5" cy="868.5" r="4.85"/><circle cx="892.5" cy="868.5" r="4.85"/><circle cx="916.5" cy="868.5" r="4.85"/><circle cx="940.5" cy="868.5" r="4.85"/><circle cx="964.5" cy="868.5" r="4.85"/><circle cx="997.5" cy="868.5" r="4.85"/><circle cx="1029.5" cy="868.5" r="4.85"/><circle cx="1061.5" cy="868.5" r="4.85"/></g>
<path clip-path="url(#c12)" fill="none" stroke-width="1.25"  d="M771.1,868.9 L771.1,665.51 L771.81,713.52 L772.31,732.14 L772.92,748.56 L773.82,766.52 L774.73,780.45 L775.94,793.95 L777.25,805.67 L778.77,816.24 L780.78,827.23 L783.2,838.36 L785.22,845.7 L786.43,849.14 L787.24,851 L790.06,856.22 L791.68,858.6 L792.89,860.1 L794.1,861.34 L795.71,862.63 L797.73,863.94 L799.75,865.02 L802.17,866.08 L804.18,866.66 L808.62,867.57 L812.66,868.17 L817.1,868.58 L821.53,868.73 L835.66,868.9 L1061.6,868.9" stroke="#0072BD" stroke-linejoin="round"/>
<path clip-path="url(#c12)" fill="none" stroke-width="1.25"  d="M771.1,851.81 L771.5,860.86 L771.81,863.59 L772.31,865.22 L773.02,866.58 L774.13,867.49 L775.13,867.79 L779.57,867.79 L781.59,867.57 L790.06,865.61 L813.87,861.2 L821.53,859.92 L831.62,858.47 L841.71,857.28 L849.78,856.5 L873.99,854.91 L888.11,854.24 L908.28,853.53 L942.58,852.78 L988.98,852.36 L1061.6,852.13" stroke="#D95319" stroke-linejoin="round"/>
<path clip-path="url(#c12)" fill="none" stroke-width="1.25"  d="M771.1,868.9 L771.4,856.89 L771.5,855.05 L772.01,851.26 L772.51,849.02 L773.02,847.89 L774.13,846.82 L774.63,846.56 L775.13,846.46 L776.75,846.65 L780.38,847.59 L791.27,851.1 L802.57,854.35 L812.25,856.72 L821.53,858.69 L831.62,860.56 L843.73,862.35 L853.81,863.52 L865.92,864.62 L888.11,866.22 L900.21,866.87 L920.38,867.68 L940.56,868.2 L970.82,868.67 L1061.6,868.9" stroke="#EDB120" stroke-linejoin="round"/>
</g>
<text class="lb" x="576.5" y="920" text-anchor="middle">time (hour)</text>
<text class="lb" transform="translate(44.6,451.5) rotate(-90)" x="0" y="0" text-anchor="middle">nanomole/liter</text>
<g><rect x="1089.5" y="35.5" width="272" height="54" fill="#fff" stroke="#262626" stroke-width="1" shape-rendering="crispEdges"/><path d="M1089.5,54.5H1361.5" stroke="#262626" stroke-width="1" shape-rendering="crispEdges"/><text class="lt" x="1226.0" y="48.9" text-anchor="middle" textLength="31.50" lengthAdjust="spacingAndGlyphs">Drug</text><circle cx="1118.5" cy="64.5" r="4.9" fill="none" stroke="#0072BD" stroke-width="1"/><path d="M1094,80.5H1144" stroke="#0072BD" stroke-width="1" shape-rendering="crispEdges"/><text class="lg" x="1148" y="68.5" textLength="162.80" lengthAdjust="spacingAndGlyphs">Observed (Observed.Drug)</text><text class="lg" x="1148" y="83.7" textLength="208.58" lengthAdjust="spacingAndGlyphs">Predicted (Predicted.Plasma.Drug)</text></g>
<g><rect x="1089.5" y="107.5" width="280" height="55" fill="#fff" stroke="#262626" stroke-width="1" shape-rendering="crispEdges"/><path d="M1089.5,127.5H1369.5" stroke="#262626" stroke-width="1" shape-rendering="crispEdges"/><text class="lt" x="1230.0" y="121" text-anchor="middle" textLength="40.26" lengthAdjust="spacingAndGlyphs">Target</text><circle cx="1118.5" cy="137.5" r="4.9" fill="none" stroke="#D95319" stroke-width="1"/><path d="M1094,152.5H1144" stroke="#D95319" stroke-width="1" shape-rendering="crispEdges"/><text class="lg" x="1148" y="140.5" textLength="171.06" lengthAdjust="spacingAndGlyphs">Observed (Observed.Target)</text><text class="lg" x="1148" y="156.5" textLength="216.84" lengthAdjust="spacingAndGlyphs">Predicted (Predicted.Plasma.Target)</text></g>
<g><rect x="1089.5" y="179.5" width="296" height="55" fill="#fff" stroke="#262626" stroke-width="1" shape-rendering="crispEdges"/><path d="M1089.5,199.5H1385.5" stroke="#262626" stroke-width="1" shape-rendering="crispEdges"/><text class="lt" x="1238.0" y="193" text-anchor="middle" textLength="57.01" lengthAdjust="spacingAndGlyphs">Complex</text><circle cx="1118.5" cy="209.5" r="4.9" fill="none" stroke="#EDB120" stroke-width="1"/><path d="M1094,224.5H1144" stroke="#EDB120" stroke-width="1" shape-rendering="crispEdges"/><text class="lg" x="1148" y="212.5" textLength="186.81" lengthAdjust="spacingAndGlyphs">Observed (Observed.Complex)</text><text class="lg" x="1148" y="228.6" textLength="232.59" lengthAdjust="spacingAndGlyphs">Predicted (Predicted.Plasma.Complex)</text></g>
</svg>
</body></html>
